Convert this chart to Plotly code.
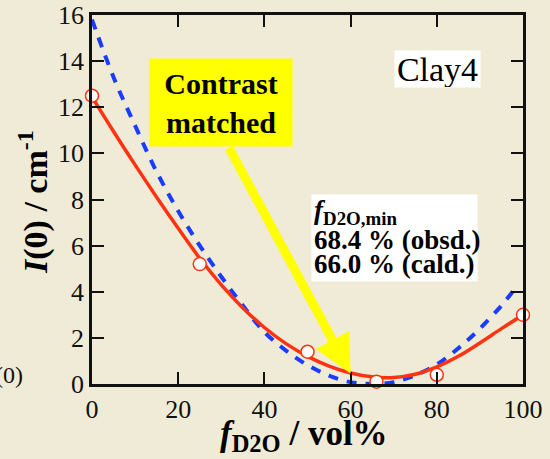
import plotly.graph_objects as go

# ---- data ----
obs_x = [0, 25, 50, 66, 80, 100]
obs_y = [12.5, 5.2, 1.4, 0.1, 0.4, 3.0]

fit_x = [0, 5, 10, 15, 20, 25, 30, 35, 40, 45, 50, 55, 60, 65, 70, 75, 80, 85, 90, 95, 100]
fit_y = [12.45, 10.95, 9.5, 8.1, 6.75, 5.45, 4.3, 3.3, 2.45, 1.75, 1.2, 0.78, 0.48,
         0.31, 0.28, 0.42, 0.74, 1.2, 1.78, 2.4, 3.0]

calc_x = [0, 5, 10, 15, 20, 25, 30, 35, 40, 45, 50, 55, 60, 65, 70, 75, 80, 85, 90, 95, 98]
calc_y = [15.8, 13.3, 11.2, 9.2, 7.5, 6.0, 4.65, 3.4, 2.25, 1.45, 0.82, 0.36, 0.08,
          0.0, 0.08, 0.38, 0.85, 1.55, 2.4, 3.4, 4.1]

x_ticks = [0, 20, 40, 60, 80, 100]
y_ticks = [0, 2, 4, 6, 8, 10, 12, 14, 16]

BG = "#f0ebd6"
RED = "#ff3311"
BLUE = "#1a3cff"
SERIF = "Liberation Serif"

W, H = 550, 459
L, R, T, B = 92, 27, 15, 75


def px(x):
    return (x - L) / (W - L - R)


def py(y):
    return (H - B - y) / (H - T - B)


fig = go.Figure()
fig.add_trace(go.Scatter(x=calc_x, y=calc_y, mode="lines",
                         line=dict(color=BLUE, width=4, dash="10px,9px", shape="spline"),
                         cliponaxis=False, showlegend=False))
fig.add_trace(go.Scatter(x=fit_x, y=fit_y, mode="lines",
                         line=dict(color=RED, width=3.5, shape="spline"),
                         cliponaxis=False, showlegend=False))
fig.add_trace(go.Scatter(x=obs_x, y=obs_y, mode="markers",
                         marker=dict(size=13, color="white", line=dict(color=RED, width=1.5)),
                         cliponaxis=False, showlegend=False))

axis_common = dict(showline=True, linecolor="#111", linewidth=2.5, mirror="ticks",
                   ticks="inside", ticklen=12, tickwidth=1.5, tickcolor="#111",
                   showgrid=False, zeroline=False,
                   tickfont=dict(family=SERIF, size=26, color="#111"))
fig.update_xaxes(range=[0, 100], tickvals=x_ticks, **axis_common)
fig.update_yaxes(range=[0, 16], tickvals=y_ticks, **axis_common)

ann = []
# arrow
ann.append(dict(x=60.0, y=0.45, ax=31.6, ay=10.3, xref="x", yref="y", axref="x", ayref="y",
                text="", showarrow=True, arrowhead=2, arrowwidth=9, arrowsize=0.85,
                arrowcolor="#ffff00", standoff=0))
# contrast matched box
ann.append(dict(x=px(221), y=py(102.5), xref="paper", yref="paper", xanchor="center", yanchor="middle",
                text="<b>Contrast<br>matched</b>", showarrow=False, bgcolor="#ffff00",
                width=142, height=87, borderpad=0,
                font=dict(family=SERIF, size=30, color="black")))
# Clay4
ann.append(dict(x=px(437.5), y=py(69), xref="paper", yref="paper", xanchor="center", yanchor="middle",
                text="Clay4", showarrow=False, bgcolor="white", width=85, height=36, borderpad=0,
                font=dict(family=SERIF, size=34, color="black")))
# white box for f_D2O,min
ann.append(dict(x=px(394.5), y=py(238), xref="paper", yref="paper", xanchor="center", yanchor="middle",
                text=" ", showarrow=False, bgcolor="white", width=165, height=86, borderpad=0,
                font=dict(family=SERIF, size=10)))
lines = [("<i>f</i><sub>D2O,min</sub>", 212), ("68.4 % (obsd.)", 240), ("66.0 % (cald.)", 264)]
for t, yy in lines:
    ann.append(dict(x=px(312), y=py(yy), xref="paper", yref="paper", xanchor="left", yanchor="middle",
                    text="<b>" + t + "</b>", showarrow=False,
                    font=dict(family=SERIF, size=27, color="black")))
# axis titles
ann.append(dict(x=px(304), y=py(436), xref="paper", yref="paper", xanchor="center", yanchor="middle",
                text="<b><i>f</i><sub>D2O</sub> / vol%</b>", showarrow=False,
                font=dict(family=SERIF, size=35, color="black")))
ann.append(dict(x=px(33), y=py(202), xref="paper", yref="paper", xanchor="center", yanchor="middle",
                text="<b><i>I</i>(0) / cm<sup>-1</sup></b>", showarrow=False, textangle=-90,
                font=dict(family=SERIF, size=34, color="black")))
# partial text at left edge
ann.append(dict(x=px(25), y=py(375), xref="paper", yref="paper", xanchor="right", yanchor="middle",
                text="(0)", showarrow=False, font=dict(family=SERIF, size=24, color="#111")))

fig.update_layout(width=W, height=H, margin=dict(l=L, r=R, t=T, b=B, autoexpand=False),
                  paper_bgcolor=BG, plot_bgcolor=BG, annotations=ann, showlegend=False)

fig.write_html("out.html")
